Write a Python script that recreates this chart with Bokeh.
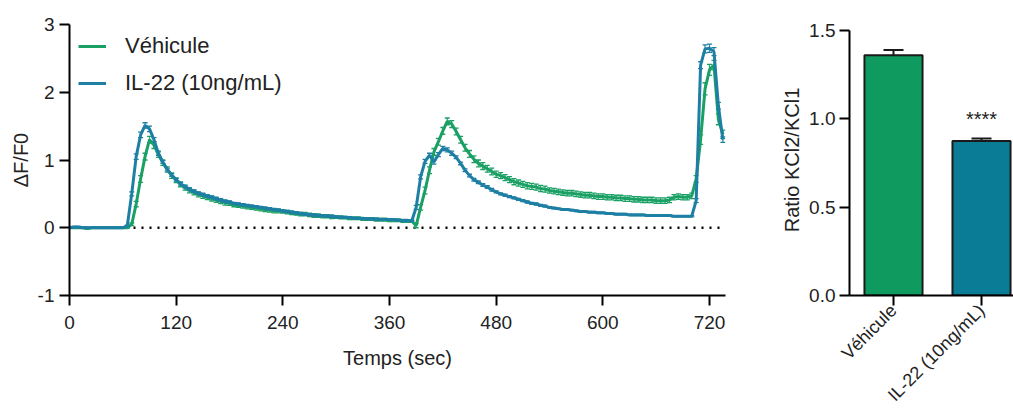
import math
from bokeh.plotting import figure
from bokeh.models import (Range1d, FixedTicker, NumeralTickFormatter, Legend, LegendItem,
                          Span, Whisker, TeeHead, ColumnDataSource)
from bokeh.layouts import row
from bokeh.embed import file_html
from bokeh.resources import INLINE
from bokeh.core.properties import value

# ---------------- data ----------------
time_s = list(range(0, 740, 5))  # sampling grid (s)

vehicule = [
    0.00, 0.00, 0.00, 0.00, -0.01, 0.00, 0.00, 0.00, 0.00, 0.00, 0.00, 0.00,
    0.00, 0.00, 0.05, 0.35, 0.72, 1.05, 1.30, 1.22, 1.08, 0.96, 0.86, 0.77,
    0.70, 0.64, 0.59, 0.55, 0.52, 0.49, 0.47, 0.45, 0.43, 0.41, 0.39, 0.37,
    0.36, 0.34, 0.33, 0.32, 0.31, 0.30, 0.29, 0.28, 0.27, 0.26, 0.25, 0.25,
    0.24, 0.23, 0.22, 0.21, 0.20, 0.20, 0.19, 0.18, 0.18, 0.17, 0.17, 0.16,
    0.16, 0.15, 0.15, 0.14, 0.14, 0.14, 0.13, 0.13, 0.13, 0.12, 0.12, 0.12,
    0.11, 0.11, 0.11, 0.10, 0.10, 0.10, 0.03, 0.30, 0.55, 0.85, 1.12, 1.27,
    1.43, 1.57, 1.53, 1.42, 1.30, 1.18, 1.09, 1.01, 0.95, 0.91, 0.87, 0.83,
    0.79, 0.77, 0.74, 0.71, 0.68, 0.66, 0.64, 0.62, 0.61, 0.60, 0.58, 0.57,
    0.55, 0.54, 0.53, 0.52, 0.51, 0.51, 0.50, 0.49, 0.48, 0.48, 0.47, 0.46,
    0.46, 0.45, 0.45, 0.44, 0.44, 0.43, 0.43, 0.42, 0.42, 0.41, 0.41, 0.41,
    0.40, 0.40, 0.40, 0.41, 0.45, 0.46, 0.45, 0.45, 0.47, 0.72, 1.30, 2.05,
    2.33, 2.40, 1.60, 1.38,
]
vehicule_sem = [
    0.01, 0.01, 0.01, 0.01, 0.01, 0.01, 0.01, 0.01, 0.01, 0.01, 0.01, 0.01,
    0.01, 0.01, 0.02, 0.04, 0.05, 0.05, 0.05, 0.05, 0.04, 0.04, 0.04, 0.04,
    0.035, 0.035, 0.035, 0.035, 0.035, 0.035, 0.035, 0.035, 0.035, 0.035, 0.035, 0.035,
    0.03, 0.03, 0.03, 0.03, 0.03, 0.03, 0.03, 0.03, 0.03, 0.03, 0.03, 0.03,
    0.025, 0.025, 0.025, 0.025, 0.025, 0.025, 0.025, 0.025, 0.025, 0.025, 0.025, 0.025,
    0.02, 0.02, 0.02, 0.02, 0.02, 0.02, 0.02, 0.02, 0.02, 0.02, 0.02, 0.02,
    0.02, 0.02, 0.02, 0.02, 0.02, 0.02, 0.03, 0.04, 0.05, 0.05, 0.05, 0.05,
    0.05, 0.05, 0.05, 0.05, 0.05, 0.05, 0.05, 0.05, 0.05, 0.05, 0.05, 0.05,
    0.045, 0.045, 0.045, 0.045, 0.045, 0.045, 0.045, 0.045, 0.045, 0.045, 0.045, 0.045,
    0.04, 0.04, 0.04, 0.04, 0.04, 0.04, 0.04, 0.04, 0.04, 0.04, 0.04, 0.04,
    0.04, 0.04, 0.04, 0.04, 0.04, 0.04, 0.04, 0.04, 0.04, 0.04, 0.04, 0.04,
    0.04, 0.04, 0.04, 0.04, 0.04, 0.04, 0.04, 0.04, 0.04, 0.05, 0.07, 0.09,
    0.08, 0.07, 0.08, 0.06,
]
il22 = [
    0.00, 0.01, 0.01, 0.00, 0.00, 0.00, 0.00, 0.00, 0.00, 0.00, 0.00, 0.00,
    0.00, 0.03, 0.50, 1.05, 1.37, 1.51, 1.46, 1.30, 1.10, 0.97, 0.86, 0.78,
    0.71, 0.65, 0.61, 0.57, 0.54, 0.51, 0.49, 0.47, 0.45, 0.43, 0.41, 0.39,
    0.38, 0.36, 0.35, 0.34, 0.33, 0.32, 0.31, 0.30, 0.29, 0.28, 0.27, 0.26,
    0.25, 0.24, 0.23, 0.22, 0.21, 0.20, 0.19, 0.19, 0.18, 0.18, 0.17, 0.17,
    0.16, 0.16, 0.15, 0.15, 0.14, 0.14, 0.14, 0.13, 0.13, 0.13, 0.12, 0.12,
    0.12, 0.12, 0.11, 0.11, 0.11, 0.10, 0.30, 0.75, 0.98, 1.07, 0.97, 1.08,
    1.17, 1.15, 1.10, 1.04, 0.95, 0.85, 0.77, 0.71, 0.67, 0.63, 0.60, 0.56,
    0.53, 0.50, 0.48, 0.46, 0.44, 0.42, 0.40, 0.38, 0.36, 0.35, 0.33, 0.32,
    0.30, 0.29, 0.28, 0.27, 0.27, 0.26, 0.25, 0.24, 0.24, 0.23, 0.23, 0.22,
    0.22, 0.21, 0.21, 0.20, 0.20, 0.20, 0.19, 0.19, 0.19, 0.19, 0.18, 0.18,
    0.18, 0.18, 0.18, 0.18, 0.17, 0.17, 0.17, 0.17, 0.17, 0.40, 2.40, 2.64,
    2.65, 2.60, 1.80, 1.30,
]
il22_sem = [
    0.01, 0.01, 0.01, 0.01, 0.01, 0.01, 0.01, 0.01, 0.01, 0.01, 0.01, 0.01,
    0.01, 0.01, 0.03, 0.04, 0.04, 0.04, 0.04, 0.03, 0.03, 0.02, 0.02, 0.02,
    0.02, 0.02, 0.02, 0.02, 0.02, 0.02, 0.02, 0.02, 0.02, 0.02, 0.02, 0.02,
    0.015, 0.015, 0.015, 0.015, 0.015, 0.015, 0.015, 0.015, 0.015, 0.015, 0.015, 0.015,
    0.015, 0.015, 0.015, 0.015, 0.015, 0.015, 0.015, 0.015, 0.015, 0.015, 0.015, 0.015,
    0.01, 0.01, 0.01, 0.01, 0.01, 0.01, 0.01, 0.01, 0.01, 0.01, 0.01, 0.01,
    0.01, 0.01, 0.01, 0.01, 0.01, 0.01, 0.03, 0.03, 0.03, 0.03, 0.03, 0.03,
    0.03, 0.03, 0.03, 0.02, 0.02, 0.02, 0.02, 0.02, 0.02, 0.02, 0.02, 0.02,
    0.015, 0.015, 0.015, 0.015, 0.015, 0.015, 0.015, 0.015, 0.015, 0.015, 0.015, 0.015,
    0.01, 0.01, 0.01, 0.01, 0.01, 0.01, 0.01, 0.01, 0.01, 0.01, 0.01, 0.01,
    0.01, 0.01, 0.01, 0.01, 0.01, 0.01, 0.01, 0.01, 0.01, 0.01, 0.01, 0.01,
    0.01, 0.01, 0.01, 0.01, 0.01, 0.01, 0.01, 0.01, 0.01, 0.03, 0.05, 0.06,
    0.06, 0.06, 0.05, 0.04,
]
series_names = ["Véhicule", "IL-22 (10ng/mL)"]
x_ticks = [0, 120, 240, 360, 480, 600, 720]
y_ticks = [-1, 0, 1, 2, 3]

bar_categories = ["Véhicule", "IL-22 (10ng/mL)"]
bar_means = [1.36, 0.875]
bar_sem = [0.03, 0.013]
bar_y_ticks = [0.0, 0.5, 1.0, 1.5]
signif_label = "****"

# ---------------- style ----------------
FONT = "Liberation Sans"
TXT = "#222222"
GREEN_LINE = "#1aa064"
BLUE_LINE = "#1e7fa4"
GREEN_BAR = "#0f9a5f"
BLUE_BAR = "#0a7c96"


def style_axes(p):
    p.outline_line_color = None
    p.xgrid.visible = False
    p.ygrid.visible = False
    p.background_fill_color = "white"
    p.border_fill_color = "white"
    for ax in (p.xaxis, p.yaxis):
        ax.axis_line_width = 2
        ax.axis_line_color = "black"
        ax.major_tick_line_width = 2
        ax.major_tick_line_color = "black"
        ax.major_tick_out = 10
        ax.major_tick_in = 0
        ax.minor_tick_line_color = None
        ax.major_label_text_font = FONT
        ax.major_label_text_font_size = "19px"
        ax.major_label_text_color = TXT
        ax.axis_label_text_font = FONT
        ax.axis_label_text_font_size = "20px"
        ax.axis_label_text_font_style = "normal"
        ax.axis_label_text_color = TXT


# ---------------- left: time course ----------------
p1 = figure(width=760, height=416, x_range=Range1d(0, 738), y_range=Range1d(-1, 3),
            output_backend="svg", toolbar_location=None,
            min_border_left=69, min_border_right=35, min_border_top=24, min_border_bottom=121)
style_axes(p1)
p1.xaxis.ticker = FixedTicker(ticks=x_ticks)
p1.yaxis.ticker = FixedTicker(ticks=y_ticks)
p1.yaxis.major_label_overrides = {t: str(t) for t in y_ticks}
p1.xaxis.axis_label = "Temps (sec)"
p1.yaxis.axis_label = "ΔF/F0"
p1.xaxis.major_label_standoff = 10
p1.xaxis.axis_label_standoff = 15
p1.yaxis.major_label_standoff = 5
p1.yaxis.axis_label_standoff = 3

p1.add_layout(Span(location=0, dimension="width", line_color="black", line_width=2.5,
                   line_dash="2 6", level="underlay"))


def draw_series(p, y, sem, color):
    lo = [a - b for a, b in zip(y, sem)]
    hi = [a + b for a, b in zip(y, sem)]
    p.segment(x0=time_s, y0=lo, x1=time_s, y1=hi, line_color=color, line_width=1.3, line_alpha=0.9)
    p.scatter(x=time_s, y=hi, marker="dash", size=5, line_color=color, line_width=1.3)
    p.scatter(x=time_s, y=lo, marker="dash", size=5, line_color=color, line_width=1.3)
    return p.line(x=time_s, y=y, line_color=color, line_width=3)


r_green = draw_series(p1, vehicule, vehicule_sem, GREEN_LINE)
r_blue = draw_series(p1, il22, il22_sem, BLUE_LINE)

legend = Legend(items=[LegendItem(label=series_names[0], renderers=[r_green]),
                       LegendItem(label=series_names[1], renderers=[r_blue])],
                location="top_left", margin=9, padding=10, spacing=11,
                glyph_width=28, glyph_height=20, label_standoff=19,
                label_text_font=FONT, label_text_font_size="22px", label_text_color=TXT,
                border_line_color=None, background_fill_alpha=0)
p1.add_layout(legend)

# ---------------- right: bar chart ----------------
positions = [i + 1 for i in range(len(bar_categories))]
p2 = figure(width=253, height=416, x_range=Range1d(0.5, 2.3636), y_range=Range1d(0, 1.534),
            output_backend="svg", toolbar_location=None,
            min_border_left=89, min_border_right=0, min_border_top=24, min_border_bottom=121)
style_axes(p2)
p2.yaxis.ticker = FixedTicker(ticks=bar_y_ticks)
p2.yaxis.formatter = NumeralTickFormatter(format="0.0")
p2.yaxis.bounds = (bar_y_ticks[0], bar_y_ticks[-1])
p2.yaxis.axis_label = "Ratio KCl2/KCl1"
p2.yaxis.major_label_standoff = 4
p2.yaxis.axis_label_standoff = 3
p2.xaxis.ticker = FixedTicker(ticks=positions)
p2.xaxis.major_label_overrides = {pos: cat for pos, cat in zip(positions, bar_categories)}
p2.xaxis.major_label_orientation = math.pi / 4
p2.xaxis.major_label_text_font_size = "18px"
p2.xaxis.major_label_standoff = 2

bar_src = ColumnDataSource(dict(
    x=positions, top=bar_means, color=[GREEN_BAR, BLUE_BAR],
    upper=[m + s for m, s in zip(bar_means, bar_sem)], lower=bar_means,
))
p2.vbar(x="x", top="top", width=0.66, fill_color="color", line_color="#1a1a1a",
        line_width=2, source=bar_src)
p2.add_layout(Whisker(base="x", upper="upper", lower="lower", source=bar_src,
                      line_color="#1a1a1a", line_width=2,
                      upper_head=TeeHead(size=20, line_width=2, line_color="#1a1a1a"),
                      lower_head=None))
p2.text(x=[positions[1]], y=[bar_means[1] + 0.125], text=[signif_label],
        text_align="center", text_baseline="alphabetic",
        text_font=value(FONT), text_font_size="20px", text_color=TXT)

layout = row(p1, p2)
open("out.html", "w").write(file_html(layout, INLINE))
